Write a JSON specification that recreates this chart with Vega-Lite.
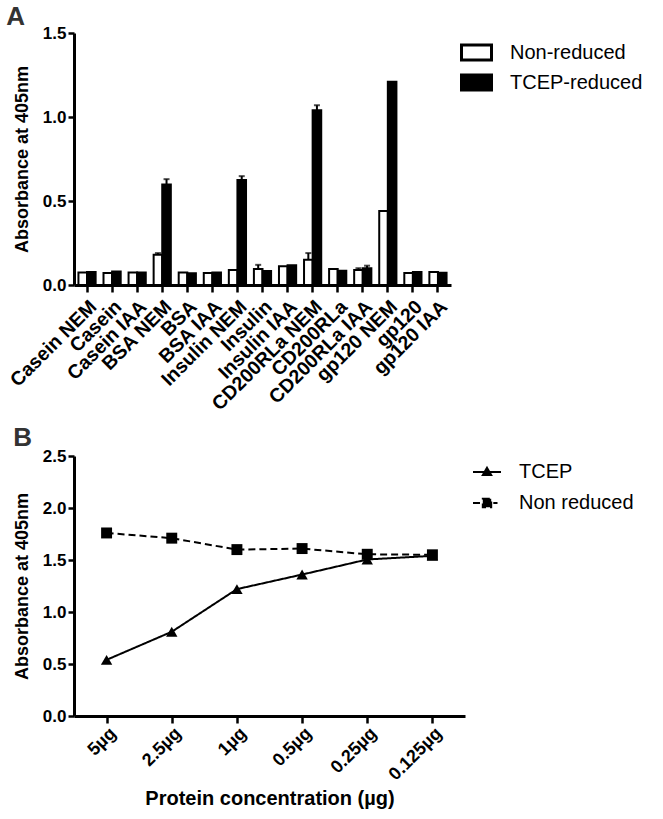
{
  "$schema": "https://vega.github.io/schema/vega-lite/v6.json",
  "padding": {"top": 4, "left": 6, "right": 5, "bottom": 5},
  "background": "white",
  "spacing": 11,
  "resolve": {
    "scale": {"fill": "independent", "strokeDash": "independent"},
    "legend": {"fill": "independent", "strokeDash": "independent"}
  },
  "config": {
    "font": "Liberation Sans",
    "view": {"stroke": null},
    "axis": {
      "domainColor": "black",
      "domainWidth": 3,
      "tickColor": "black",
      "tickWidth": 2.5,
      "labelColor": "black",
      "labelFont": "Liberation Sans",
      "labelFontWeight": "bold",
      "titleColor": "black",
      "titleFont": "Liberation Sans",
      "titleFontWeight": "bold",
      "grid": false
    },
    "legend": {
      "labelFont": "Liberation Sans",
      "labelColor": "black",
      "labelFontWeight": "normal"
    },
    "title": {
      "font": "Liberation Sans",
      "fontSize": 26,
      "fontWeight": "bold",
      "color": "#333333",
      "anchor": "start",
      "frame": "bounds"
    }
  },
  "datasets": {
    "bars": [
      {"protein": "Casein NEM", "condition": "Non-reduced", "value": 0.075, "hi": null},
      {"protein": "Casein NEM", "condition": "TCEP-reduced", "value": 0.078, "hi": null},
      {"protein": "Casein", "condition": "Non-reduced", "value": 0.072, "hi": null},
      {"protein": "Casein", "condition": "TCEP-reduced", "value": 0.08, "hi": null},
      {"protein": "Casein IAA", "condition": "Non-reduced", "value": 0.075, "hi": null},
      {"protein": "Casein IAA", "condition": "TCEP-reduced", "value": 0.075, "hi": null},
      {"protein": "BSA NEM", "condition": "Non-reduced", "value": 0.18, "hi": 0.19},
      {"protein": "BSA NEM", "condition": "TCEP-reduced", "value": 0.598, "hi": 0.63},
      {"protein": "BSA", "condition": "Non-reduced", "value": 0.075, "hi": null},
      {"protein": "BSA", "condition": "TCEP-reduced", "value": 0.07, "hi": null},
      {"protein": "BSA IAA", "condition": "Non-reduced", "value": 0.072, "hi": null},
      {"protein": "BSA IAA", "condition": "TCEP-reduced", "value": 0.075, "hi": null},
      {"protein": "Insulin NEM", "condition": "Non-reduced", "value": 0.09, "hi": null},
      {"protein": "Insulin NEM", "condition": "TCEP-reduced", "value": 0.625, "hi": 0.648},
      {"protein": "Insulin", "condition": "Non-reduced", "value": 0.095, "hi": 0.12},
      {"protein": "Insulin", "condition": "TCEP-reduced", "value": 0.083, "hi": null},
      {"protein": "Insulin IAA", "condition": "Non-reduced", "value": 0.112, "hi": null},
      {"protein": "Insulin IAA", "condition": "TCEP-reduced", "value": 0.117, "hi": null},
      {"protein": "CD200RLa NEM", "condition": "Non-reduced", "value": 0.15, "hi": 0.19},
      {"protein": "CD200RLa NEM", "condition": "TCEP-reduced", "value": 1.04, "hi": 1.07},
      {"protein": "CD200RLa", "condition": "Non-reduced", "value": 0.095, "hi": null},
      {"protein": "CD200RLa", "condition": "TCEP-reduced", "value": 0.085, "hi": null},
      {"protein": "CD200RLa IAA", "condition": "Non-reduced", "value": 0.09, "hi": 0.1},
      {"protein": "CD200RLa IAA", "condition": "TCEP-reduced", "value": 0.1, "hi": 0.115},
      {"protein": "gp120 NEM", "condition": "Non-reduced", "value": 0.44, "hi": null},
      {"protein": "gp120 NEM", "condition": "TCEP-reduced", "value": 1.21, "hi": null},
      {"protein": "gp120", "condition": "Non-reduced", "value": 0.072, "hi": null},
      {"protein": "gp120", "condition": "TCEP-reduced", "value": 0.078, "hi": null},
      {"protein": "gp120 IAA", "condition": "Non-reduced", "value": 0.078, "hi": null},
      {"protein": "gp120 IAA", "condition": "TCEP-reduced", "value": 0.073, "hi": null}
    ],
    "lines": [
      {"conc": "5µg", "series": "TCEP", "value": 0.54},
      {"conc": "2.5µg", "series": "TCEP", "value": 0.81},
      {"conc": "1µg", "series": "TCEP", "value": 1.22},
      {"conc": "0.5µg", "series": "TCEP", "value": 1.36},
      {"conc": "0.25µg", "series": "TCEP", "value": 1.505},
      {"conc": "0.125µg", "series": "TCEP", "value": 1.54},
      {"conc": "5µg", "series": "Non reduced", "value": 1.76},
      {"conc": "2.5µg", "series": "Non reduced", "value": 1.71},
      {"conc": "1µg", "series": "Non reduced", "value": 1.6},
      {"conc": "0.5µg", "series": "Non reduced", "value": 1.61},
      {"conc": "0.25µg", "series": "Non reduced", "value": 1.555},
      {"conc": "0.125µg", "series": "Non reduced", "value": 1.55}
    ]
  },
  "vconcat": [
    {
      "title": {"text": "A", "offset": -6},
      "width": 377,
      "height": 252,
      "data": {"name": "bars"},
      "encoding": {
        "x": {
          "field": "protein",
          "type": "nominal",
          "sort": null,
          "scale": {"paddingInner": 0.28, "paddingOuter": 0.16},
          "axis": {"title": null, "labelAngle": -45, "labelFontSize": 19.5, "tickSize": 7, "labelPadding": 5}
        },
        "xOffset": {
          "field": "condition",
          "type": "nominal",
          "sort": ["Non-reduced", "TCEP-reduced"],
          "scale": {"paddingInner": 0, "paddingOuter": 0.05}
        },
        "y": {
          "field": "value",
          "type": "quantitative",
          "scale": {"domain": [0, 1.5], "nice": false},
          "axis": {"title": "Absorbance at 405nm", "values": [0, 0.5, 1, 1.5], "format": ".1f", "labelFontSize": 17, "titleFontSize": 18, "tickSize": 6, "titlePadding": 11}
        }
      },
      "layer": [
        {
          "mark": {"type": "bar", "stroke": "black", "strokeWidth": 2},
          "encoding": {
            "fill": {
              "field": "condition",
              "type": "nominal",
              "scale": {"domain": ["Non-reduced", "TCEP-reduced"], "range": ["white", "black"]},
              "legend": {
                "title": null,
                "orient": "right",
                "offset": 6,
                "symbolType": "M-1,-0.5H1V0.5H-1Z",
                "symbolSize": 900,
                "symbolStrokeColor": "black",
                "symbolStrokeWidth": 3,
                "labelFontSize": 20,
                "labelOffset": 17,
                "rowPadding": 0,
                "padding": 3
              }
            }
          }
        },
        {
          "transform": [{"filter": "datum.hi != null"}],
          "mark": {"type": "rule", "color": "black", "strokeWidth": 2},
          "encoding": {"y2": {"field": "hi"}}
        },
        {
          "transform": [{"filter": "datum.hi != null"}],
          "mark": {"type": "tick", "color": "black", "thickness": 2, "size": 6, "orient": "horizontal"},
          "encoding": {"y": {"field": "hi", "type": "quantitative"}}
        }
      ]
    },
    {
      "title": {"text": "B", "offset": -4},
      "width": 391,
      "height": 260,
      "data": {"name": "lines"},
      "encoding": {
        "x": {
          "field": "conc",
          "type": "ordinal",
          "sort": null,
          "scale": {"type": "point", "padding": 0.5},
          "axis": {"title": "Protein concentration (µg)", "labelAngle": -45, "labelFontSize": 18, "titleFontSize": 20, "tickSize": 7, "labelPadding": 1, "titlePadding": 5}
        },
        "y": {
          "field": "value",
          "type": "quantitative",
          "scale": {"domain": [0, 2.5], "nice": false},
          "axis": {"title": "Absorbance at 405nm", "values": [0, 0.5, 1, 1.5, 2, 2.5], "format": ".1f", "labelFontSize": 17, "titleFontSize": 18, "tickSize": 6, "titlePadding": 11}
        }
      },
      "layer": [
        {
          "mark": {"type": "line", "color": "black", "strokeWidth": 2},
          "encoding": {
            "strokeDash": {
              "field": "series",
              "type": "nominal",
              "scale": {"domain": ["TCEP", "Non reduced"], "range": [[1, 0], [7, 4]]},
              "legend": {
                "title": null,
                "orient": "right",
                "offset": 6,
                "symbolType": "M-1,0H1",
                "symbolSize": 784,
                "symbolStrokeColor": "black",
                "symbolStrokeWidth": 2,
                "labelFontSize": 20,
                "labelOffset": 17,
                "rowPadding": 6,
                "padding": 1,
                "encode": {
                  "symbols": {
                    "update": {
                      "shape": {"signal": "datum.value === 'TCEP' ? 'M-1,0H1M0,-0.3L0.3,0.22L-0.3,0.22Z' : 'M-1,0H-0.3M0.45,0H0.75M-0.3,-0.3H0.3V0.3H-0.3Z'"},
                      "strokeDash": {"value": [1, 0]},
                      "fill": {"value": "black"},
                      "stroke": {"value": "black"},
                      "strokeWidth": {"value": 2}
                    }
                  }
                }
              }
            }
          }
        },
        {
          "transform": [{"filter": "datum.series === 'TCEP'"}],
          "mark": {"type": "point", "filled": true, "color": "black", "opacity": 1, "shape": "triangle-up", "size": 130}
        },
        {
          "transform": [{"filter": "datum.series === 'Non reduced'"}],
          "mark": {"type": "point", "filled": true, "color": "black", "opacity": 1, "shape": "square", "size": 120}
        }
      ]
    }
  ]
}
